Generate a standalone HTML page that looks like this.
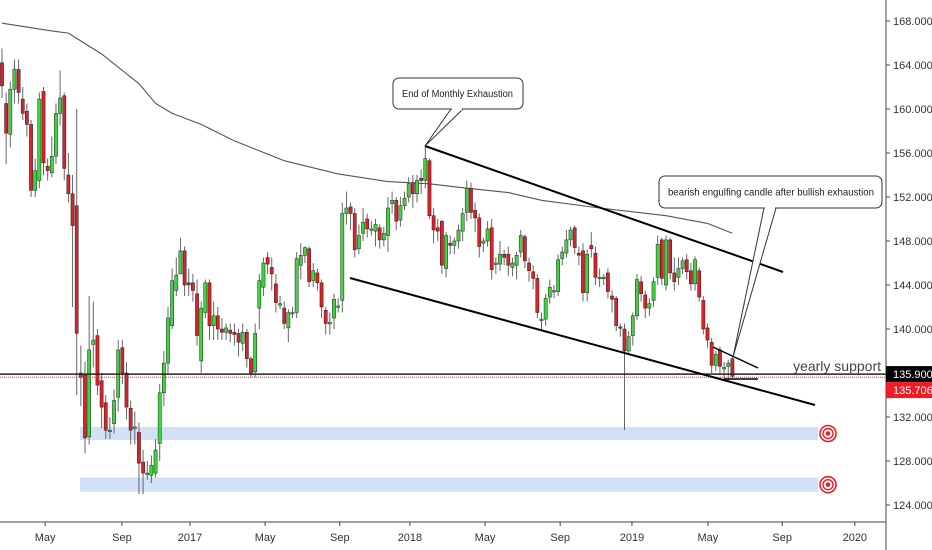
<!DOCTYPE html>
<html><head><meta charset="utf-8">
<style>
html,body{margin:0;padding:0;background:#fff;}
svg{display:block;font-family:"Liberation Sans",sans-serif;}
</style></head>
<body>
<svg id="chart" width="932" height="550" viewBox="0 0 932 550" xmlns="http://www.w3.org/2000/svg">
<rect x="0" y="0" width="932" height="550" fill="#fff"/>
<g id="zones"></g>
<g id="ma"></g>
<g id="candles"></g>
<g id="draw"></g>
<g id="axes"></g>
</svg>
<script>
const opens=[164.2,160.5,157.7,161.8,163.6,160.9,159.8,158.6,152.6,153.5,161.6,154.8,154.2,155.7,159.6,161.2,154.0,152.3,151.2,136.0,135.8,130.2,138.6,139.4,135.3,133.3,130.8,131.4,133.8,138.3,136.0,132.8,131.1,130.6,127.9,126.9,126.7,126.9,129.6,134.2,136.9,140.3,143.5,145.0,147.1,144.2,144.2,143.2,137.1,141.5,144.2,140.3,141.2,140.0,139.7,139.9,139.7,139.6,138.7,139.7,137.3,136.1,141.9,143.8,146.5,145.6,144.1,142.3,141.9,140.1,141.5,141.5,145.8,146.7,147.3,144.4,145.1,144.2,141.7,140.6,141.0,142.0,142.6,150.5,151.1,150.5,147.3,148.7,150.0,149.1,148.9,149.2,148.1,148.5,151.4,151.7,149.9,151.2,152.0,153.3,152.3,153.7,153.5,155.3,150.3,149.2,149.8,145.5,147.8,147.6,148.0,148.9,150.6,152.8,150.8,150.1,147.8,148.0,149.2,146.0,145.9,146.8,146.8,145.6,145.8,147.0,148.4,146.0,145.2,144.6,140.9,140.9,142.9,143.5,143.4,146.4,146.9,148.1,149.2,146.9,147.1,143.3,147.6,146.9,144.7,144.7,145.1,143.0,142.8,140.2,140.0,138.0,139.4,141.2,144.3,143.1,141.9,142.6,144.7,148.1,144.0,148.1,145.1,144.7,145.5,146.3,145.3,144.1,145.3,142.6,140.1,138.8,136.7,138.1,136.5,136.6,137.3];
const closes=[162.1,157.8,161.8,163.6,161.5,159.6,158.6,152.6,154.4,160.9,155.1,154.4,155.7,159.6,161.0,154.6,152.3,149.4,139.6,135.6,130.1,138.1,139.0,134.9,132.9,130.8,130.8,133.5,138.1,136.0,132.9,130.8,131.1,127.8,126.9,126.9,127.6,129.0,134.2,136.9,141.0,144.4,144.9,147.1,144.0,144.0,143.5,139.4,141.9,144.2,140.3,141.2,140.0,139.7,140.1,139.6,139.5,138.8,139.7,137.3,136.0,139.6,144.4,146.0,145.9,145.0,142.4,142.3,140.5,141.5,141.5,146.4,146.7,147.4,144.3,145.3,144.2,142.0,140.5,140.6,142.7,142.1,150.5,151.0,150.5,147.2,148.5,149.7,149.1,149.1,149.5,148.1,148.7,151.0,151.7,149.8,151.2,151.9,153.2,152.3,153.5,153.5,155.5,150.3,149.0,148.9,145.8,148.5,147.6,148.0,149.0,150.5,152.8,150.6,150.1,147.5,148.0,149.1,145.4,146.0,146.8,146.5,145.8,146.0,146.7,148.5,146.2,145.3,144.6,141.5,140.9,142.8,143.8,143.5,146.3,147.0,148.1,149.0,147.4,146.7,143.3,146.8,147.3,144.7,144.7,144.7,143.4,142.7,140.3,140.1,138.0,139.3,141.2,144.5,143.2,141.9,142.3,144.3,147.7,144.6,148.1,145.1,144.3,145.5,146.2,145.2,144.1,146.3,142.9,140.0,139.0,136.7,137.7,136.6,136.5,136.9,135.7];
const highs=[165.5,161.5,162.5,164.5,164.5,162.0,160.5,159.0,155.5,161.5,162.0,155.5,157.5,160.5,163.5,161.5,156.0,154.0,160.0,138.5,137.0,143.0,142.5,140.0,136.0,134.0,132.0,134.5,139.0,139.0,137.0,133.5,132.5,131.5,129.0,128.0,128.5,130.0,135.0,138.0,142.0,145.5,146.5,148.3,147.5,145.5,145.0,144.5,142.5,144.5,144.5,142.5,142.0,141.0,140.5,140.5,140.5,140.0,140.5,140.0,137.5,140.5,145.0,146.5,147.0,146.5,145.0,143.0,142.5,141.8,142.0,147.0,147.8,147.5,147.5,146.0,145.5,144.5,142.0,141.5,143.2,142.8,151.5,152.5,151.5,151.0,149.5,151.0,150.5,149.8,150.0,149.5,149.3,152.0,152.5,152.0,152.0,152.5,153.8,154.0,154.0,154.5,156.6,155.5,151.0,150.0,149.9,148.8,148.5,148.3,149.5,151.0,153.5,153.3,151.5,150.5,148.3,149.8,150.0,146.5,148.0,147.2,147.5,146.5,147.0,149.0,148.6,146.5,145.8,145.0,141.5,143.2,144.5,144.0,146.8,147.5,149.0,149.3,149.4,147.5,147.8,147.2,148.8,147.5,145.5,145.0,145.5,143.5,143.0,140.5,140.5,139.8,141.5,145.0,144.8,143.5,142.8,144.7,148.5,148.3,148.5,148.3,146.5,146.5,146.5,146.8,146.0,146.6,145.6,143.0,140.5,139.2,138.0,138.4,137.0,137.2,137.6];
const lows=[161.0,155.0,156.5,160.5,160.5,159.0,157.5,152.0,152.0,152.8,154.0,153.5,153.8,155.0,158.5,153.5,151.5,142.0,134.0,133.0,128.7,129.5,136.5,134.0,131.0,130.0,130.0,130.5,132.5,135.0,131.8,129.5,129.5,125.0,125.0,126.3,126.0,126.5,128.0,133.0,136.0,140.0,143.0,145.0,143.0,143.0,142.5,138.5,136.0,141.0,139.0,139.0,139.0,139.0,139.0,138.8,138.5,137.5,138.0,136.5,135.6,135.6,140.0,143.0,145.0,143.5,141.5,141.8,140.0,138.8,141.0,141.0,144.5,146.0,143.8,143.8,143.5,141.0,139.5,139.5,140.0,141.5,141.5,149.5,149.0,146.5,146.8,148.0,148.3,148.5,147.5,147.3,147.5,147.0,150.5,149.0,149.3,150.8,151.5,151.0,151.5,152.3,152.8,150.0,147.8,148.0,145.0,144.7,146.8,146.8,147.3,148.0,149.8,150.0,148.8,146.5,147.0,147.5,144.5,145.0,145.3,145.8,144.8,144.8,144.5,146.5,145.5,144.3,143.6,141.0,139.8,140.3,142.3,142.8,143.0,145.8,146.5,147.5,146.8,145.8,142.5,142.5,146.5,144.0,143.8,144.0,142.8,141.5,139.8,139.3,130.8,137.8,138.5,140.8,142.5,141.0,141.2,142.0,144.0,144.0,143.5,144.5,143.5,144.0,145.0,144.5,143.5,143.5,142.5,139.5,138.3,136.0,136.2,135.8,135.3,135.3,135.4];
const maIndex=[0,12,16,24,33,37,41,48,56,62,68,81,93,103,112,122,130,144,160,170,176];
const maValues=[167.8,167.1,166.9,165.0,162.3,160.5,159.6,158.6,157.1,156.2,155.3,154.1,153.4,153.2,152.8,152.4,151.7,151.0,150.3,149.6,148.7];
const priceTicks=[124,128,132,136,140,144,148,152,156,160,164,168];
const timeLabels=["May","Sep","2017","May","Sep","2018","May","Sep","2019","May","Sep","2020"];
const timeIndex=[10.4,28.9,45.3,63.4,81.4,98.3,116.4,134.5,151.8,170.1,188.0,205.5];
const supportPrice=135.900, lastPrice=135.706;
const zonePrices=[[131.1,129.9],[126.5,125.2]];

const NS="http://www.w3.org/2000/svg";
function yS(p){return 21+(168-p)*11.0;}
function xS(i){return 2+4.15*i;}
function mk(tag,attrs,parent){const e=document.createElementNS(NS,tag);for(const k in attrs)e.setAttribute(k,attrs[k]);parent.appendChild(e);return e;}
const zones=document.getElementById('zones'),maG=document.getElementById('ma'),cg=document.getElementById('candles'),dg=document.getElementById('draw'),ag=document.getElementById('axes');

zonePrices.forEach((z,k)=>{
  const r=mk('rect',{x:80,y:yS(z[0]),width:738,height:yS(z[1])-yS(z[0]),fill:'#d3e1f7'},zones);
  
  
  const cy=(yS(z[0])+yS(z[1]))/2;
  const t=mk('g',{},zones);
  
  
  mk('circle',{cx:828,cy:cy,r:8,fill:'#fff',stroke:'#ee1c25','stroke-width':1.6},t);
  mk('circle',{cx:828,cy:cy,r:5,fill:'#fff',stroke:'#ee1c25','stroke-width':1.4},t);
  mk('circle',{cx:828,cy:cy,r:2.3,fill:'#ee1c25'},t);
});

let d='';maIndex.forEach((ix,k)=>{d+=(k?'L':'M')+xS(ix).toFixed(1)+' '+yS(maValues[k]).toFixed(1);});
const maP=mk('path',{d:d,fill:'none',stroke:'#555','stroke-width':1.1},maG);



// support lines
const sl=mk('line',{x1:0,x2:886,y1:yS(supportPrice),y2:yS(supportPrice),stroke:'#222','stroke-width':1.5},dg);


const ll=mk('line',{x1:0,x2:886,y1:yS(lastPrice)+1,y2:yS(lastPrice)+1,stroke:'#e33','stroke-width':1,'stroke-dasharray':'1,1'},dg);



for(let i=0;i<opens.length;i++){
  const o=opens[i],c=closes[i],x=xS(i);
  const g=mk('g',{},cg);
  
  
  mk('line',{x1:x,x2:x,y1:yS(highs[i]),y2:yS(lows[i]),stroke:'#666','stroke-width':1},g);
  const top=yS(Math.max(o,c)),h=Math.max(1.5,Math.abs(yS(o)-yS(c)));
  mk('rect',{x:x-1.6,y:top,width:3.2,height:h,fill:c>=o?'#3ed43e':'#d8232a',stroke:'#222','stroke-width':0.5},g);
}

function line(x1,y1,x2,y2,w,name,col){const l=mk('line',{x1,y1,x2,y2,stroke:col||'#000','stroke-width':w},dg);}
line(425,146,783,272,2,'upper-trendline');
line(350,278,815,405,2,'lower-trendline');
line(713,347,758,368,1.5,'short-trendline');
line(724,379,758,379,1.5,'short-support-line');

function callout(x,y,w,h,tx,tip,px1,px2,txt,name,tl){
  const g=mk('g',{},dg);
  
  
  mk('path',{d:`M${px1} ${y+h} L${tip[0]} ${tip[1]} L${px2} ${y+h}`,fill:'#fff',stroke:'#333','stroke-width':1},g);
  mk('rect',{x,y,width:w,height:h,rx:6,fill:'#fff',stroke:'#333','stroke-width':1},g);
  mk('rect',{x:px1+1,y:y+h-1.5,width:px2-px1-2,height:3,fill:'#fff'},g);
  const t=mk('text',{x:tx,y:y+h/2+3.5,'font-size':10,fill:'#222',textLength:tl,lengthAdjust:'spacingAndGlyphs'},g);
  t.textContent=txt;
}
callout(393,78,130,31,402,[425,146],451,463,'End of Monthly Exhaustion','callout-monthly-exhaustion',111);
callout(659,176,223,32,668,[733,357],764,776,'bearish engulfing candle after bullish exhaustion','callout-bearish-engulfing',206);

const ys=mk('text',{x:881,y:371,'font-size':14,fill:'#444','text-anchor':'end'},dg);
ys.textContent='yearly support';



// axes
const ay=mk('line',{x1:886,x2:886,y1:0,y2:550,stroke:'#444','stroke-width':1},ag);


const ax=mk('line',{x1:0,x2:886,y1:522,y2:522,stroke:'#444','stroke-width':1},ag);


priceTicks.forEach(p=>{
  const y=yS(p);
  mk('line',{x1:886,x2:890,y1:y,y2:y,stroke:'#444'},ag);
  const t=mk('text',{x:893,y:y+4,'font-size':11,fill:'#333'},ag);
  t.textContent=p.toFixed(3);
  
  
});
timeLabels.forEach((lab,k)=>{
  const x=xS(timeIndex[k]);
  mk('line',{x1:x,x2:x,y1:522,y2:526,stroke:'#444'},ag);
  const t=mk('text',{x:x,y:541,'font-size':11,fill:'#333','text-anchor':'middle'},ag);
  t.textContent=lab;
  
  
});
const b1=mk('rect',{x:886,y:yS(supportPrice)-8,width:46,height:16,fill:'#000'},ag);


const t1=mk('text',{x:893,y:yS(supportPrice)+4,'font-size':11,fill:'#fff'},ag);t1.textContent=supportPrice.toFixed(3);
const b2=mk('rect',{x:886,y:yS(supportPrice)+8,width:46,height:16,fill:'#ee1c25'},ag);


const t2=mk('text',{x:893,y:yS(supportPrice)+20,'font-size':11,fill:'#fff'},ag);t2.textContent=lastPrice.toFixed(3);
</script>
</body></html>
